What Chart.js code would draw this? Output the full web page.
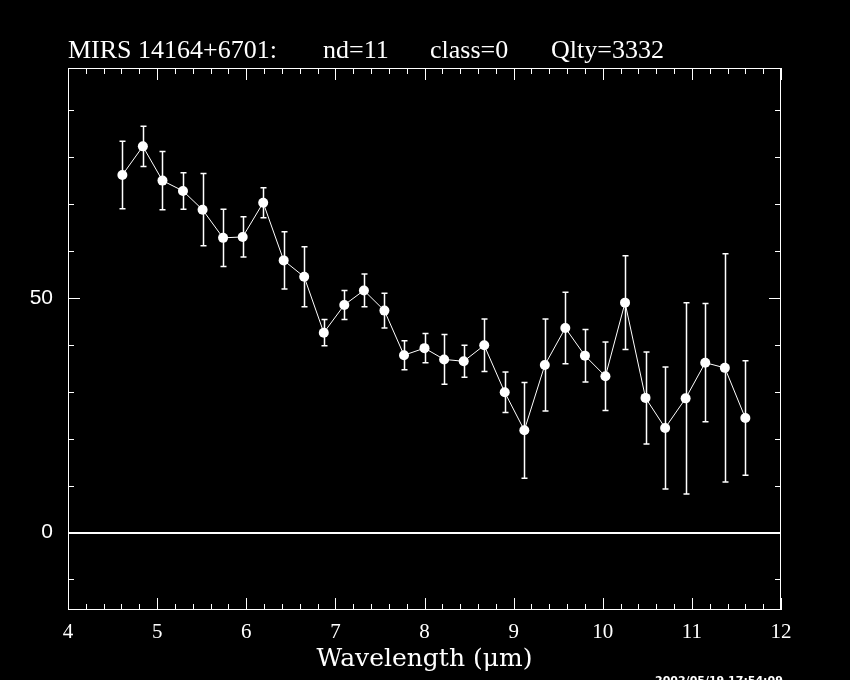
<!DOCTYPE html>
<html>
<head>
<meta charset="utf-8">
<script src="https://cdn.jsdelivr.net/npm/chart.js@4.4.1/dist/chart.umd.min.js"></script>
<style>
  html, body { margin: 0; padding: 0; background: #000; }
  #spectrum { display: block; }
</style>
</head>
<body>
<canvas id="spectrum" width="850" height="680"></canvas>
<script>
// wavelength (micron) of each sample
const wavelengths = [4.61, 4.84, 5.06, 5.29, 5.51, 5.74, 5.96, 6.19, 6.42, 6.65, 6.87, 7.10,
  7.32, 7.55, 7.77, 8.00, 8.22, 8.44, 8.67, 8.90, 9.12, 9.35, 9.58, 9.80,
  10.03, 10.25, 10.48, 10.70, 10.93, 11.15, 11.37, 11.60];
const flux = [76.2, 82.3, 75.0, 72.8, 68.8, 62.8, 63.0, 70.3, 58.0, 54.5, 42.6, 48.5,
  51.6, 47.3, 37.8, 39.3, 36.9, 36.5, 39.9, 29.9, 21.8, 35.7, 43.6, 37.7,
  33.3, 49.0, 28.7, 22.3, 28.6, 36.2, 35.1, 24.4];
const fluxErr = [7.2, 4.3, 6.2, 3.9, 7.7, 6.1, 4.3, 3.2, 6.1, 6.4, 2.8, 3.1,
  3.5, 3.7, 3.1, 3.1, 5.3, 3.4, 5.6, 4.3, 10.2, 9.8, 7.6, 5.6,
  7.3, 10.0, 9.8, 13.0, 20.4, 12.6, 24.3, 12.2];

const xTickLabels = [4, 5, 6, 7, 8, 9, 10, 11, 12];
const yTickLabels = [0, 50];

const titleParts = [
  { text: 'MIRS 14164+6701:', x: 68 },
  { text: 'nd=11', x: 323 },
  { text: 'class=0', x: 430 },
  { text: 'Qlty=3332', x: 551 }
];
const stamp = '2002/05/19 17:54:09';

const SERIF = '"Liberation Serif", "DejaVu Serif", serif';

// frame, inward ticks, zero line, error bars and the header text
const pgplotLook = {
  id: 'pgplotLook',
  beforeDatasetsDraw(chart) {
    const { ctx, chartArea: a, scales: { y } } = chart;
    ctx.save();
    ctx.strokeStyle = '#fff';

    // zero line
    ctx.lineWidth = 2;
    const y0 = Math.round(y.getPixelForValue(0));
    ctx.beginPath();
    ctx.moveTo(a.left, y0);
    ctx.lineTo(a.right, y0);
    ctx.stroke();

    // error bars
    ctx.lineWidth = 1.5;
    const meta = chart.getDatasetMeta(0);
    meta.data.forEach((pt, i) => {
      const px = Math.round(pt.x) + 0.5;
      const top = y.getPixelForValue(flux[i] + fluxErr[i]);
      const bot = y.getPixelForValue(flux[i] - fluxErr[i]);
      ctx.beginPath();
      ctx.moveTo(px, top); ctx.lineTo(px, bot);
      ctx.moveTo(px - 3, top); ctx.lineTo(px + 3, top);
      ctx.moveTo(px - 3, bot); ctx.lineTo(px + 3, bot);
      ctx.stroke();
    });
    ctx.restore();
  },
  afterDraw(chart) {
    const { ctx, chartArea: a, scales: { x, y } } = chart;
    ctx.save();
    ctx.strokeStyle = '#fff';
    ctx.lineWidth = 1;
    ctx.strokeRect(a.left + 0.5, a.top + 0.5, a.right - a.left - 1, a.bottom - a.top - 1);

    ctx.beginPath();
    for (let k = 0; k <= 40; k++) {
      const v = 4 + k * 0.2;
      const px = Math.round(x.getPixelForValue(v)) + 0.5;
      const len = k % 5 === 0 ? 12 : 6;
      ctx.moveTo(px, a.bottom); ctx.lineTo(px, a.bottom - len);
      ctx.moveTo(px, a.top); ctx.lineTo(px, a.top + len);
    }
    for (let v = -10; v <= 90; v += 10) {
      const py = Math.round(y.getPixelForValue(v)) + 0.5;
      const len = v % 50 === 0 ? 12 : 6;
      ctx.moveTo(a.left, py); ctx.lineTo(a.left + len, py);
      ctx.moveTo(a.right, py); ctx.lineTo(a.right - len, py);
    }
    ctx.stroke();

    ctx.fillStyle = '#fff';
    ctx.font = '26px ' + SERIF;
    ctx.textBaseline = 'alphabetic';
    titleParts.forEach(p => ctx.fillText(p.text, p.x, 58));

    ctx.font = 'bold 11px "DejaVu Sans", sans-serif';
    ctx.fillText(stamp, 655, 684);
    ctx.restore();
  }
};

document.addEventListener('DOMContentLoaded', () => {
  const points = wavelengths.map((w, i) => ({ x: w, y: flux[i] }));

  new Chart(document.getElementById('spectrum'), {
    type: 'line',
    data: {
      datasets: [{
        data: points,
        borderColor: '#fff',
        borderWidth: 1,
        tension: 0,
        pointRadius: 5,
        pointBackgroundColor: '#fff',
        pointBorderWidth: 0,
        fill: false
      }]
    },
    options: {
      responsive: false,
      animation: false,
      layout: { padding: { top: 68, right: 69, left: 0, bottom: 0 } },
      plugins: {
        legend: { display: false },
        tooltip: { enabled: false },
        title: { display: false }
      },
      scales: {
        x: {
          type: 'linear',
          min: 4,
          max: 12,
          border: { display: false },
          grid: { display: false },
          afterFit: s => { s.height = 70; },
          afterBuildTicks: s => { s.ticks = xTickLabels.map(v => ({ value: v })); },
          ticks: {
            color: '#fff',
            padding: 2,
            maxRotation: 0,
            font: { family: SERIF, size: 21 }
          },
          title: {
            display: true,
            text: 'Wavelength (\u03bcm)',
            color: '#fff',
            padding: { top: 0, bottom: 6 },
            font: { family: '"DejaVu Serif", serif', size: 25 }
          }
        },
        y: {
          min: -16.5,
          max: 99,
          border: { display: false },
          grid: { display: false },
          afterFit: s => { s.width = 68; },
          afterBuildTicks: s => { s.ticks = yTickLabels.map(v => ({ value: v })); },
          ticks: {
            color: '#fff',
            padding: 7,
            font: { family: '"Liberation Sans", sans-serif', size: 21 }
          }
        }
      }
    },
    plugins: [pgplotLook]
  });
});
</script>
</body>
</html>
